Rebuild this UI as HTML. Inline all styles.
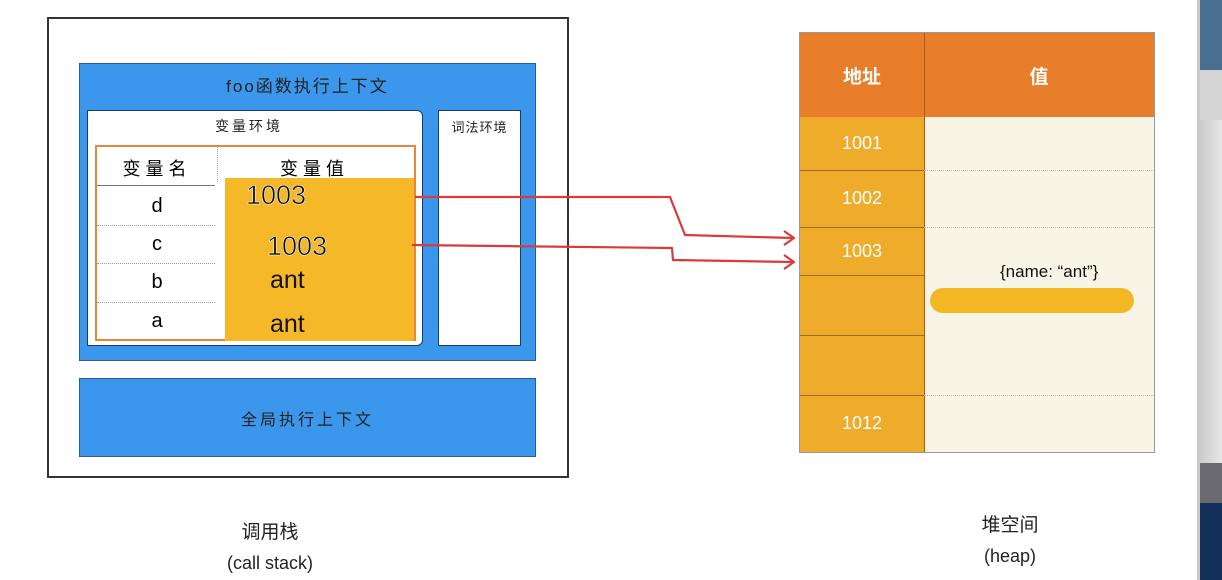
<!DOCTYPE html>
<html><head><meta charset="utf-8"><style>
*{margin:0;padding:0;box-sizing:border-box}
body{width:1222px;height:580px;background:#fff;position:relative;overflow:hidden;font-family:"Liberation Sans","Noto Sans CJK SC",sans-serif}
.a{position:absolute}
.c{display:flex;align-items:center;justify-content:center}
</style></head><body>
<!-- call stack outer -->
<div class="a" style="left:47px;top:17px;width:522px;height:461px;border:2px solid #333"></div>
<div class="a c" style="left:79px;top:63px;width:457px;height:298px;background:#3a97ec;border:1px solid #2a5a9a;align-items:flex-start;padding-top:8px;font-size:17px;color:#222;letter-spacing:2px">foo函数执行上下文</div>
<div class="a" style="left:87px;top:110px;width:336px;height:236px;background:#fff;border:1.5px solid #1d3a6a;border-radius:0 6px 6px 0"></div>
<div class="a c" style="left:87px;top:114px;width:324px;height:24px;font-size:14px;color:#222;letter-spacing:3px">变量环境</div>
<div class="a" style="left:438px;top:110px;width:83px;height:236px;background:#fff;border:1.5px solid #1d3a6a"></div>
<div class="a c" style="left:438px;top:116px;width:83px;height:20px;font-size:13px;color:#222;letter-spacing:1px">词法环境</div>
<!-- table -->
<div class="a" style="left:95px;top:145px;width:321px;height:196px;border:2.5px solid #e6873a"></div>
<div class="a c" style="left:97px;top:150px;width:120px;height:35px;font-size:18px;letter-spacing:5px">变量名</div>
<div class="a c" style="left:217px;top:150px;width:195px;height:35px;font-size:18px;letter-spacing:5px">变量值</div>
<div class="a" style="left:217px;top:147px;width:0;height:35px;border-left:1px dotted #aaa"></div>
<div class="a" style="left:97px;top:185px;width:118px;border-top:1px solid #777"></div>
<div class="a" style="left:97px;top:225px;width:118px;border-top:1px dotted #999"></div>
<div class="a" style="left:97px;top:263px;width:118px;border-top:1px dotted #999"></div>
<div class="a" style="left:97px;top:302px;width:118px;border-top:1px dotted #999"></div>
<div class="a c" style="left:97px;top:187px;width:120px;height:38px;font-size:20px">d</div>
<div class="a c" style="left:97px;top:225px;width:120px;height:38px;font-size:20px">c</div>
<div class="a c" style="left:97px;top:263px;width:120px;height:39px;font-size:20px">b</div>
<div class="a c" style="left:97px;top:302px;width:120px;height:38px;font-size:20px">a</div>
<div class="a" style="left:225px;top:178px;width:189px;height:163px;background:#f4b829"></div>
<div class="a" style="left:246px;top:180px;font-size:27px;color:#111;-webkit-text-stroke:0.5px #fff">1003</div>
<div class="a" style="left:267px;top:231px;font-size:27px;color:#111;-webkit-text-stroke:0.5px #fff">1003</div>
<div class="a" style="left:270px;top:266px;font-size:25px;color:#111">ant</div>
<div class="a" style="left:270px;top:310px;font-size:25px;color:#111">ant</div>
<!-- global -->
<div class="a c" style="left:79px;top:378px;width:457px;height:79px;background:#3a97ec;border:1px solid #2a5a9a;font-size:16px;color:#222;letter-spacing:3px">全局执行上下文</div>
<!-- heap -->
<div class="a" style="left:799px;top:32px;width:356px;height:421px;border:1px solid #999;background:#f9f5e6"></div>
<div class="a" style="left:800px;top:33px;width:354px;height:84px;background:#e97e2a"></div>
<div class="a" style="left:800px;top:117px;width:124px;height:335px;background:#eeac2a"></div>
<div class="a" style="left:924px;top:33px;width:0;height:419px;border-left:1px solid #b05a1a"></div>
<div class="a c" style="left:800px;top:33px;width:124px;height:84px;color:#fff;font-size:19px;font-weight:bold">地址</div>
<div class="a c" style="left:924px;top:33px;width:230px;height:84px;color:#fff;font-size:19px;font-weight:bold">值</div>
<div class="a" style="left:800px;top:170px;width:124px;border-top:1px solid #a06a1a"></div>
<div class="a" style="left:800px;top:227px;width:124px;border-top:1px solid #a06a1a"></div>
<div class="a" style="left:800px;top:275px;width:124px;border-top:1px solid #a06a1a"></div>
<div class="a" style="left:800px;top:335px;width:124px;border-top:1px solid #a06a1a"></div>
<div class="a" style="left:800px;top:395px;width:124px;border-top:1px solid #a06a1a"></div>
<div class="a" style="left:924px;top:170px;width:230px;border-top:1px dotted #bbb"></div>
<div class="a" style="left:924px;top:227px;width:230px;border-top:1px dotted #bbb"></div>
<div class="a" style="left:924px;top:395px;width:230px;border-top:1px dotted #bbb"></div>
<div class="a c" style="left:800px;top:117px;width:124px;height:53px;color:#fff;font-size:18px">1001</div>
<div class="a c" style="left:800px;top:170px;width:124px;height:57px;color:#fff;font-size:18px">1002</div>
<div class="a c" style="left:800px;top:227px;width:124px;height:48px;color:#fff;font-size:18px">1003</div>
<div class="a c" style="left:800px;top:395px;width:124px;height:57px;color:#fff;font-size:18px">1012</div>
<div class="a" style="left:1000px;top:262px;font-size:17px;color:#111">{name: “ant”}</div>
<div class="a" style="left:930px;top:288px;width:204px;height:25px;border-radius:13px;background:#f4b826"></div>
<!-- arrows -->
<svg class="a" style="left:0;top:0" width="1222" height="580">
<g fill="none" stroke="#d93a3a" stroke-width="2.2" stroke-linejoin="round">
<polyline points="415,197 670,197 685,235 793,238"/>
<polyline points="784,231 794,238 784,245"/>
<polyline points="412,245 672,248 673,260 793,262"/>
<polyline points="784,255 794,262 784,269"/>
</g>
</svg>
<!-- labels -->
<div class="a c" style="left:200px;top:516px;width:140px;height:28px;font-size:19px;color:#222">调用栈</div>
<div class="a c" style="left:200px;top:550px;width:140px;height:26px;font-size:18px;color:#222">(call stack)</div>
<div class="a c" style="left:950px;top:509px;width:120px;height:28px;font-size:19px;color:#222">堆空间</div>
<div class="a c" style="left:950px;top:543px;width:120px;height:26px;font-size:18px;color:#222">(heap)</div>
<!-- right edge strip -->
<div class="a" style="left:1197px;top:0;width:25px;height:580px;background:linear-gradient(90deg,#c8c8c8,#e6e6e6)"></div>
<div class="a" style="left:1200px;top:0;width:22px;height:70px;background:#4a6e90"></div>
<div class="a" style="left:1200px;top:70px;width:22px;height:50px;background:#d4d4d4"></div>
<div class="a" style="left:1200px;top:463px;width:22px;height:40px;background:#6a6a70"></div>
<div class="a" style="left:1200px;top:503px;width:22px;height:77px;background:#12305a"></div>
</body></html>
